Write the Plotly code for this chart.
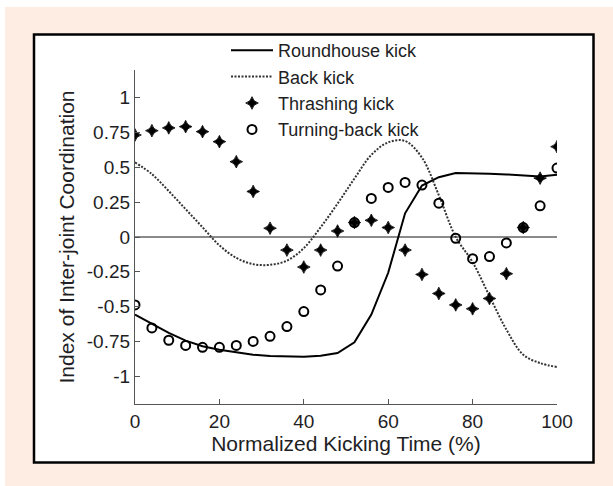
import plotly.graph_objects as go

# ---- data ----
time_pts = [0, 4, 8, 12, 16, 20, 24, 28, 32, 36, 40, 44, 48, 52, 56, 60, 64, 68, 72, 76, 80, 84, 88, 92, 96, 100]

roundhouse = [-0.557, -0.624, -0.689, -0.745, -0.785, -0.810, -0.830, -0.846, -0.855, -0.860, -0.860, -0.853,
              -0.834, -0.757, -0.557, -0.257, 0.17, 0.37, 0.43, 0.46, 0.46, 0.455, 0.45, 0.44, 0.435, 0.447]

back_kick = [0.536, 0.452, 0.33, 0.20, 0.07, -0.06, -0.15, -0.195, -0.20, -0.17, -0.08, 0.07,
             0.24, 0.42, 0.59, 0.68, 0.69, 0.57, 0.30, 0.0, -0.18, -0.425, -0.665, -0.846, -0.906, -0.934]

thrashing = [0.733, 0.764, 0.784, 0.793, 0.757, 0.685, 0.541, 0.327, 0.063, -0.094, -0.216, -0.094,
             0.043, 0.104, 0.120, 0.068, -0.094, -0.269, -0.406, -0.488, -0.516, -0.442, -0.264, 0.068, 0.423, 0.649]

turning_back = [-0.488, -0.653, -0.742, -0.779, -0.793, -0.793, -0.779, -0.750, -0.714, -0.644, -0.536, -0.380,
                -0.209, 0.104, 0.277, 0.356, 0.392, 0.373, 0.243, -0.009, -0.156, -0.141, -0.043, 0.068, 0.224, 0.495]

y_tick_vals = [-1, -0.75, -0.5, -0.25, 0, 0.25, 0.5, 0.75, 1]
y_tick_text = ["-1", "-0.75", "-0.5", "-0.25", "0", "0.25", "0.5", "0.75", "1"]
x_tick_vals = [0, 20, 40, 60, 80, 100]

FONT = "Arial, Liberation Sans, sans-serif"
TXT = "#1e1e24"

fig = go.Figure()
fig.add_trace(go.Scatter(x=time_pts, y=roundhouse, mode="lines", name="Roundhouse kick",
                         line=dict(color="black", width=2)))
fig.add_trace(go.Scatter(x=time_pts, y=back_kick, mode="lines", name="Back kick",
                         line=dict(color="#333333", width=2, dash="2px,1.5px"), line_shape="spline"))
fig.add_trace(go.Scatter(x=time_pts, y=thrashing, mode="markers", name="Thrashing kick",
                         marker=dict(symbol="star-diamond", size=9, color="black",
                                     line=dict(width=0.8, color="black"))))
fig.add_trace(go.Scatter(x=time_pts, y=turning_back, mode="markers", name="Turning-back kick",
                         marker=dict(symbol="circle-open", size=9, color="black",
                                     line=dict(width=2, color="black"))))

L, R, T, B = 135, 56, 70, 82
W, H = 613, 486
pw, ph = W - L - R, H - T - B

def px_x(p):
    return (p - L) / pw

def px_y(p):
    return (H - B - p) / ph

shapes = [
    dict(type="rect", xref="paper", yref="paper", layer="below",
         x0=px_x(5), x1=px_x(640), y0=px_y(520), y1=px_y(7),
         fillcolor="#fdede3", line=dict(width=0)),
    dict(type="rect", xref="paper", yref="paper", layer="below",
         x0=px_x(34), x1=px_x(593.5), y0=px_y(462.5), y1=px_y(34.5),
         fillcolor="white", line=dict(color="black", width=2.5)),
]

fig.update_layout(
    width=W, height=H,
    margin=dict(l=L, r=R, t=T, b=B, autoexpand=False),
    paper_bgcolor="white",
    plot_bgcolor="white",
    font=dict(family=FONT, color=TXT, size=18),
    shapes=shapes,
    showlegend=True,
    legend=dict(x=px_x(226), y=px_y(32), xanchor="left", yanchor="top",
                bgcolor="rgba(0,0,0,0)", borderwidth=0,
                font=dict(size=18, family=FONT, color=TXT),
                itemwidth=42, tracegroupgap=0),
    xaxis=dict(range=[0, 100], tickvals=x_tick_vals, showgrid=False, zeroline=False,
               showline=True, linecolor="#555555", linewidth=1.2,
               ticks="inside", ticklen=5, tickcolor="#555555",
               tickfont=dict(size=19, family=FONT, color=TXT),
               title=dict(text="Normalized Kicking Time (%)", font=dict(size=21, family=FONT, color=TXT),
                          standoff=4),
               automargin=False),
    yaxis=dict(range=[-1.2, 1.2], tickvals=y_tick_vals, ticktext=y_tick_text, showgrid=False,
               zeroline=True, zerolinecolor="#8a8a8a", zerolinewidth=2,
               showline=True, linecolor="#555555", linewidth=1.2,
               ticks="inside", ticklen=5, tickcolor="#555555",
               tickfont=dict(size=19, family=FONT, color=TXT),
               title=dict(text="Index of Inter-joint Coordination", font=dict(size=21, family=FONT, color=TXT),
                          standoff=6),
               automargin=False),
)

fig.write_html("out.html")
